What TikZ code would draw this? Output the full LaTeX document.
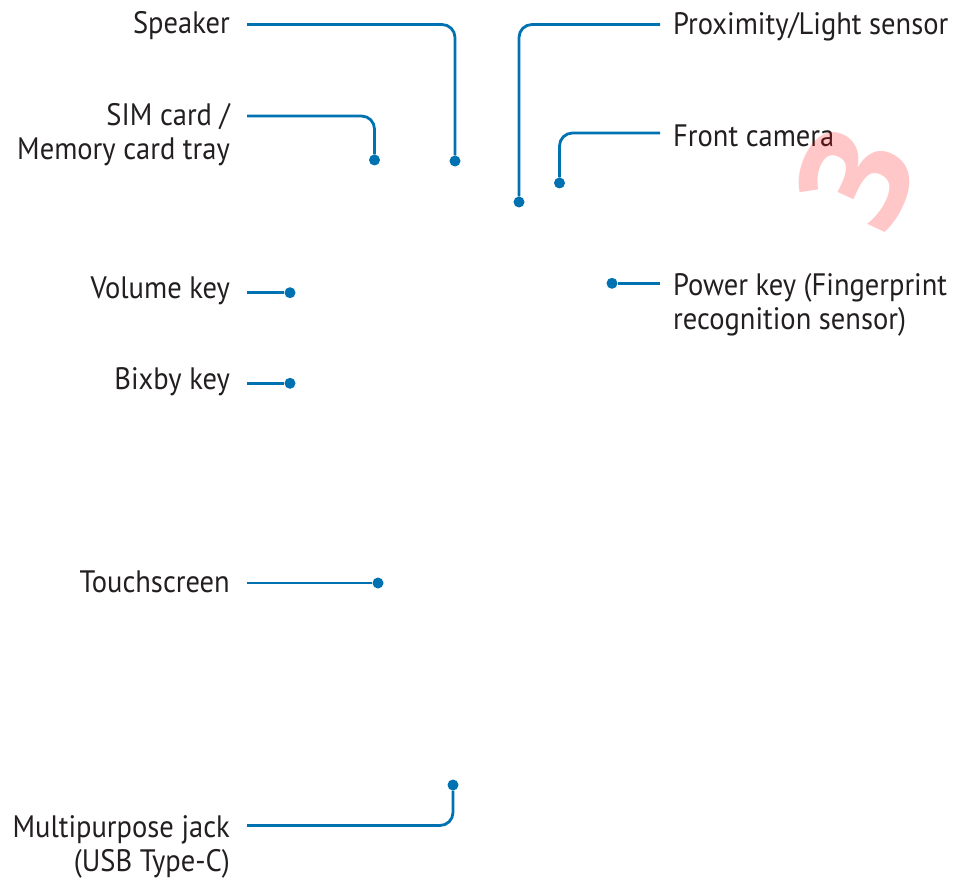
\documentclass[tikz,border=0pt]{standalone}
\usepackage{fontspec}
\setmainfont{PT Sans}[FakeStretch=0.92]
\newfontfamily\wmfont{Open Sans}
\definecolor{lineblue}{RGB}{0,114,178}
\definecolor{txt}{RGB}{35,31,32}
\begin{document}
\begin{tikzpicture}[x=1pt,y=-1pt,
  lead/.style={draw=lineblue, line width=2.8pt, rounded corners=13pt},
  dotc/.style={circle, fill=lineblue, inner sep=0pt, minimum size=11pt},
  lbl/.style={font=\fontsize{31}{34}\selectfont, text=txt, inner ysep=0pt},
  lbll/.style={lbl, inner xsep=17pt, align=right, anchor=base east},
  lblr/.style={lbl, inner xsep=13pt, align=left, anchor=base west}]
\useasboundingbox (0,0) rectangle (962,882);
% labels left
\node[lbll] (spk) at (247,33.3) {Speaker};
\node[lbll] (sim) at (247,160) {SIM card /\\Memory card tray};
\node[lbll] (vol) at (247,298.3) {Volume key};
\node[lbll] (bxb) at (247,390) {Bixby key};
\node[lbll] (tsc) at (247,592) {Touchscreen};
\node[lbll] (mpj) at (247,871.5) {Multipurpose jack\\(USB Type-C)};
% labels right
\node[lblr] (prx) at (660,35) {Proximity/Light sensor};
\node[lblr] (fcm) at (660,146.7) {Front camera};
\node[lblr] (pwk) at (660,330) {Power key (Fingerprint\\recognition sensor)};
% dots
\node[dotc] (spkd) at (455,161) {};
\node[dotc] (simd) at (374.5,160) {};
\node[dotc] (prxd) at (519,202) {};
\node[dotc] (fcmd) at (559.5,183) {};
\node[dotc] (pwkd) at (612,283.3) {};
\node[dotc] (vold) at (290,292.7) {};
\node[dotc] (bxbd) at (290,383.3) {};
\node[dotc] (tscd) at (378,583) {};
\node[dotc] (mpjd) at (453,785) {};
% connectors
\draw[lead] (spk.east |- 0,24.5) -| (spkd);
\draw[lead] (sim.east |- 0,116) -| (simd);
\draw[lead] (prx.west |- 0,24.5) -| (prxd);
\draw[lead] (fcm.west |- 0,133) -| (fcmd);
\draw[lead] (pwk.west |- pwkd) -- (pwkd);
\draw[lead] (vol.east |- vold) -- (vold);
\draw[lead] (bxb.east |- bxbd) -- (bxbd);
\draw[lead] (tsc.east |- tscd) -- (tscd);
\draw[lead] (mpj.east |- 0,825.5) -| (mpjd);
% watermark
\node[rotate=65, text=red, opacity=0.22, font=\wmfont\bfseries\fontsize{150}{150}\selectfont, inner sep=0pt] (wm) at (856,178) {3};
\end{tikzpicture}
\end{document}
